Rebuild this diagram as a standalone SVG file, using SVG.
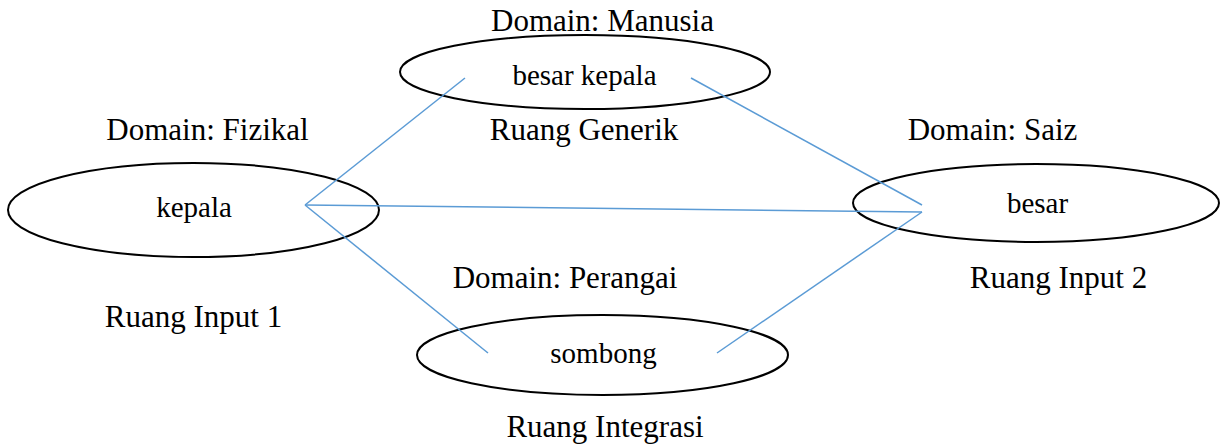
<svg xmlns="http://www.w3.org/2000/svg" width="1220" height="445" viewBox="0 0 1220 445">
<style>
.bg{fill:#fff}
.ell{fill:none;stroke:#000;stroke-width:2}
.lbl{font-family:"Liberation Serif","Times New Roman",serif;font-size:31px;fill:#000;text-anchor:middle}
.in{font-family:"Liberation Serif","Times New Roman",serif;font-size:29px;fill:#000;text-anchor:middle}
.conn line{stroke:#5B9BD5;stroke-width:1.5}
</style>
<rect class="bg" x="0" y="0" width="1220" height="445"/>
<g id="generic">
<ellipse class="ell" cx="585" cy="72" rx="185" ry="37"/>
<text class="lbl" x="602.5" y="31">Domain: Manusia</text>
<text class="in" x="584.5" y="85">besar kepala</text>
<text class="lbl" x="584" y="140">Ruang Generik</text>
</g>
<g id="input1">
<ellipse class="ell" cx="193.5" cy="210" rx="185.5" ry="47"/>
<text class="lbl" x="207.5" y="140">Domain: Fizikal</text>
<text class="in" x="194" y="217">kepala</text>
<text class="lbl" x="193.5" y="327">Ruang Input 1</text>
</g>
<g id="input2">
<ellipse class="ell" cx="1036" cy="203" rx="183" ry="39"/>
<text class="lbl" x="992.5" y="140">Domain: Saiz</text>
<text class="in" x="1037.5" y="213">besar</text>
<text class="lbl" x="1058.5" y="288">Ruang Input 2</text>
</g>
<g id="integrasi">
<ellipse class="ell" cx="602.5" cy="355" rx="185.5" ry="40"/>
<text class="lbl" x="565" y="288">Domain: Perangai</text>
<text class="in" x="603.5" y="363">sombong</text>
<text class="lbl" x="605" y="437">Ruang Integrasi</text>
</g>
<g id="connectors" class="conn">
<line x1="305" y1="205" x2="465" y2="78"/>
<line x1="305" y1="205" x2="922" y2="212"/>
<line x1="305" y1="205" x2="488" y2="353"/>
<line x1="691" y1="78" x2="922" y2="205"/>
<line x1="922" y1="212" x2="717" y2="353"/>
</g>
</svg>
